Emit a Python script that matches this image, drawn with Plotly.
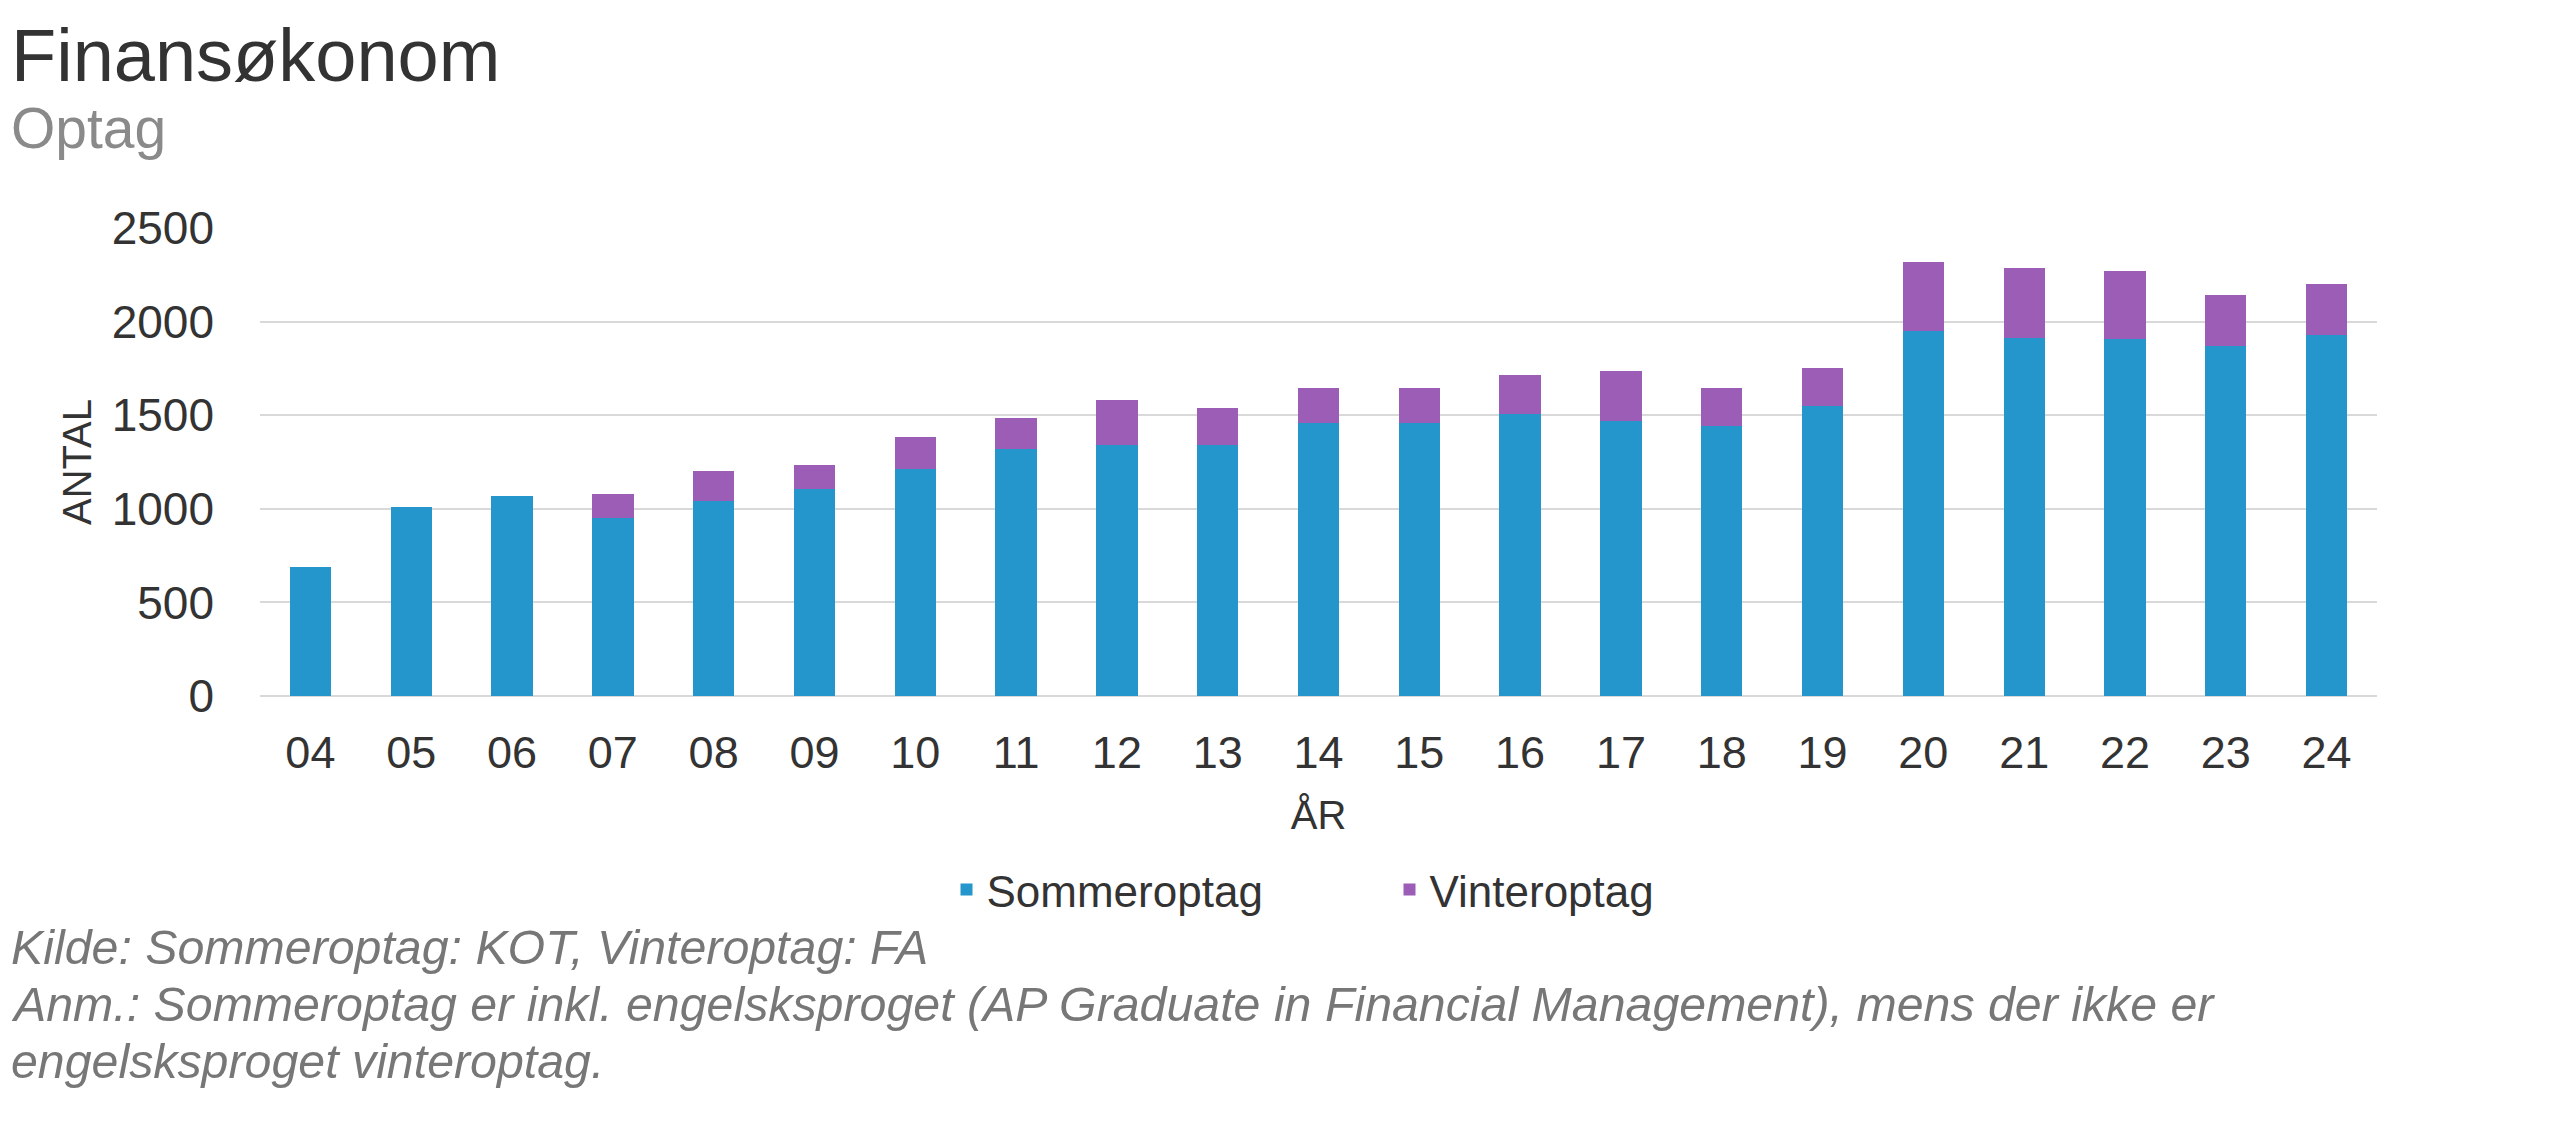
import plotly.graph_objects as go

years = ["04", "05", "06", "07", "08", "09", "10", "11", "12", "13", "14",
         "15", "16", "17", "18", "19", "20", "21", "22", "23", "24"]
sommeroptag = [690, 1010, 1070, 950, 1043, 1105, 1211, 1318, 1339, 1339, 1457,
               1460, 1508, 1470, 1443, 1550, 1950, 1913, 1908, 1870, 1929]
vinteroptag = [0, 0, 0, 128, 157, 127, 172, 169, 240, 198, 186,
               187, 209, 268, 204, 204, 367, 374, 362, 272, 274]
y_ticks = [0, 500, 1000, 1500, 2000, 2500]

title_text = "Finansøkonom"
subtitle_text = "Optag"
note_lines = [
    "Kilde: Sommeroptag: KOT, Vinteroptag: FA",
    "Anm.: Sommeroptag er inkl. engelsksproget (AP Graduate in Financial Management), mens der ikke er",
    "engelsksproget vinteroptag.",
]

W, H = 2569, 1141
OFF = 8  # page body margin
L, T = 260 - OFF, 228 - OFF
R = W - (2377 - OFF)
B = H - (696 - OFF)
FONT = "Liberation Sans, Arial, sans-serif"
BLUE = "#2496CC"
PURPLE = "#9B5DB5"

pw, ph = W - L - R, H - T - B


def px(x):
    return (x - OFF - L) / pw


def py(y):
    return (H - B - (y - OFF)) / ph


fig = go.Figure()
fig.add_trace(go.Bar(x=years, y=sommeroptag, name="Sommeroptag",
                     marker=dict(color=BLUE, line=dict(width=0))))
fig.add_trace(go.Bar(x=years, y=vinteroptag, name="Vinteroptag",
                     marker=dict(color=PURPLE, line=dict(width=0))))

annotations = [
    dict(text=title_text, x=px(9), y=py(55), xref="paper", yref="paper",
         xanchor="left", yanchor="middle", showarrow=False,
         font=dict(family=FONT, size=74, color="#333333")),
    dict(text=subtitle_text, x=px(9), y=py(128), xref="paper", yref="paper",
         xanchor="left", yanchor="middle", showarrow=False,
         font=dict(family=FONT, size=57, color="#8a8a8a")),
]
for i, line in enumerate(note_lines):
    annotations.append(dict(
        text=line, x=px(9), y=py(947 + 57 * i), xref="paper", yref="paper",
        xanchor="left", yanchor="middle", showarrow=False,
        font=dict(family=FONT, size=48.3, color="#777777", style="italic")))

fig.update_layout(
    width=W, height=H,
    margin=dict(l=L, r=R, t=T, b=B, autoexpand=False),
    barmode="stack", bargap=0.59,
    plot_bgcolor="white", paper_bgcolor="white",
    font=dict(family=FONT, color="#333333"),
    showlegend=True,
    legend=dict(orientation="h", x=0.5 + 71 / pw, xanchor="center", y=py(890),
                yanchor="middle", font=dict(size=44, color="#333333"),
                entrywidth=398, traceorder="normal"),
    annotations=annotations,
    xaxis=dict(
        type="category", showgrid=False, showline=False, zeroline=False,
        ticks="", tickfont=dict(size=45, color="#333333"),
        ticklabelstandoff=26,
        title=dict(text="ÅR", font=dict(size=40, color="#333333"), standoff=23),
    ),
    yaxis=dict(
        range=[0, 2500], tickvals=y_ticks, showgrid=True,
        gridcolor="#d9d9d9", gridwidth=2, zeroline=True, zerolinecolor="#d9d9d9",
        zerolinewidth=2, showline=False, ticks="",
        tickfont=dict(size=46, color="#333333"), ticklabelstandoff=45,
        title=dict(text="ANTAL", font=dict(size=40, color="#333333"), standoff=7),
    ),
)

fig.write_html("out.html")
